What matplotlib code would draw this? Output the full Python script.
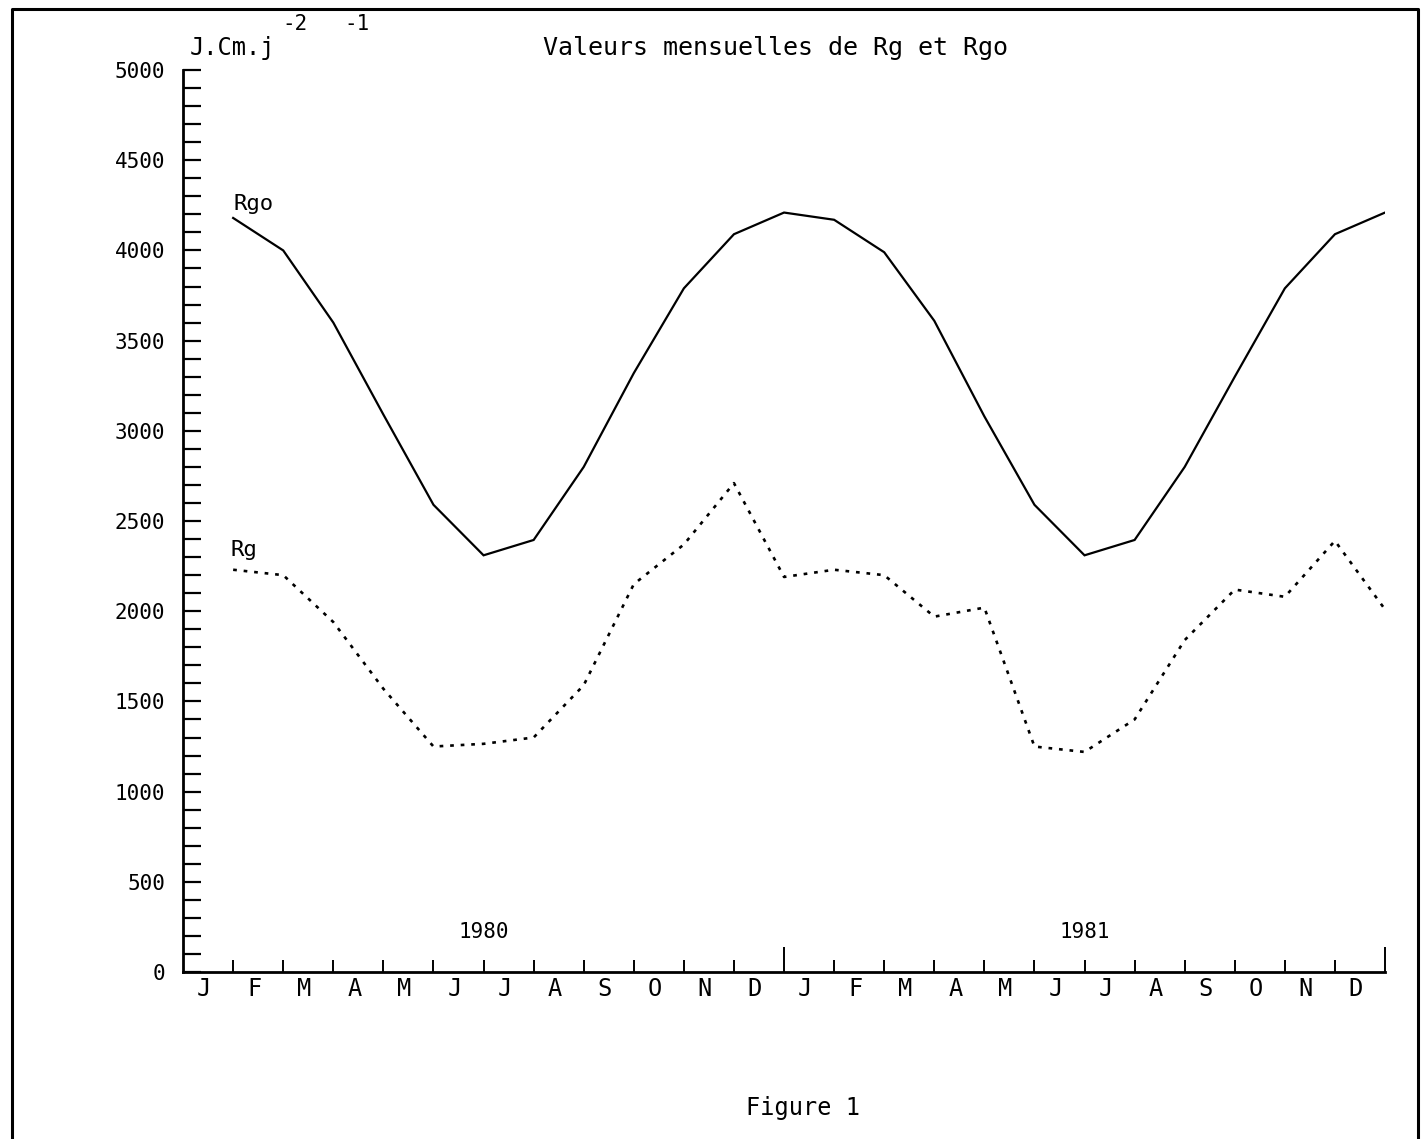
import numpy as np
import matplotlib
matplotlib.use("Agg")
import matplotlib.pyplot as plt
from matplotlib.lines import Line2D
from matplotlib.transforms import blended_transform_factory

plt.rcParams['font.family'] = ['DejaVu Sans Mono']

# Monthly values (J.cm-2.j-1), Jan 1980 .. Dec 1981
rgo = [4180, 4000, 3600, 3090, 2590, 2310, 2395, 2800, 3320, 3790, 4090, 4210,
       4170, 3990, 3610, 3080, 2590, 2310, 2395, 2800, 3300, 3790, 4090, 4210]
rg = [2230, 2200, 1940, 1570, 1250, 1265, 1300, 1590, 2150, 2370, 2710, 2190,
      2230, 2200, 1970, 2020, 1250, 1220, 1400, 1840, 2120, 2080, 2390, 2010]
months = ['J', 'F', 'M', 'A', 'M', 'J', 'J', 'A', 'S', 'O', 'N', 'D'] * 2
years = ['1980', '1981']

fig = plt.figure(figsize=(14.28, 11.39), dpi=100)
ax = fig.add_axes([0.1282, 0.1466, 0.8417, 0.7919])

x = np.arange(1, len(rgo) + 1)
ax.plot(x, rgo, color='black', lw=1.6, solid_joinstyle='miter')
ax.plot(x, rg, color='black', lw=1.9, linestyle=(0, (1.4, 2.6)))

ax.set_xlim(0, 24)
ax.set_ylim(0, 5000)
for s in ['top', 'right']:
    ax.spines[s].set_visible(False)
for s in ['left', 'bottom']:
    ax.spines[s].set_linewidth(2.0)

# y axis: ticks every 100, labels every 500
ax.set_yticks(np.arange(0, 5001, 500))
ax.set_yticks(np.arange(0, 5001, 100), minor=True)
ax.set_yticklabels([str(v) for v in range(0, 5001, 500)])
ax.tick_params(axis='y', which='both', direction='in', length=13, width=1.6,
               pad=13, labelsize=15)

# x axis: month boundaries, longer ticks at year boundaries
ax.set_xticks([12, 24])
ax.set_xticks([k for k in range(1, 24) if k != 12], minor=True)
ax.tick_params(axis='x', which='major', direction='in', length=18, width=1.4,
               labelbottom=False)
ax.tick_params(axis='x', which='minor', direction='in', length=9, width=1.4)

trans = blended_transform_factory(ax.transData, ax.transAxes)
for k, m in enumerate(months):
    ax.text(k + 0.42, -0.005, m, transform=trans, ha='center', va='top',
            fontsize=17)

for i, yr in enumerate(years):
    ax.text(6 + 12 * i, 0.044, yr, transform=trans, ha='center',
            va='center', fontsize=15)

ax.text(1.0, 4260, 'Rgo', fontsize=16, ha='left', va='center')
ax.text(0.95, 2340, 'Rg', fontsize=16, ha='left', va='center')

# units and title above the plot
fig.text(0.133, 0.958, 'J.Cm.j', fontsize=17, ha='left', va='center')
fig.text(0.198, 0.979, '-2', fontsize=15, ha='left', va='center')
fig.text(0.241, 0.979, '-1', fontsize=15, ha='left', va='center')
fig.text(0.543, 0.958, 'Valeurs mensuelles de Rg et Rgo', fontsize=18,
         ha='center', va='center')
fig.text(0.562, 0.027, 'Figure 1', fontsize=17, ha='center', va='center')

# page frame (left, top, right)
fx = [12 / 1428, 12 / 1428, 1418 / 1428, 1418 / 1428]
fy = [0.0, 1 - 9 / 1139, 1 - 9 / 1139, 0.0]
fig.add_artist(Line2D(fx, fy, transform=fig.transFigure, color='black', lw=2.2))

fig.savefig('out.png', dpi=100, facecolor='white')
